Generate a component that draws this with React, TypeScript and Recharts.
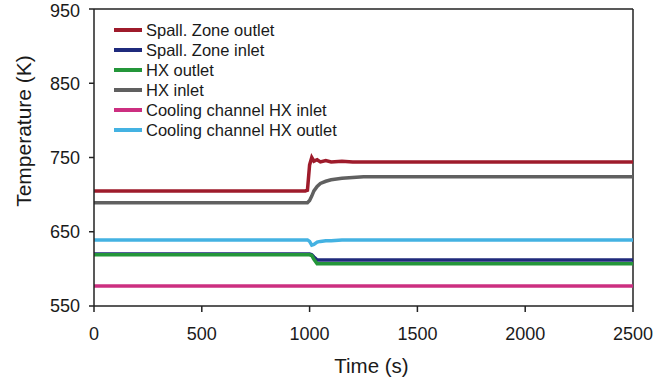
import React from 'react';
import {
  LineChart,
  Line,
  XAxis,
  YAxis,
  ReferenceLine,
  Label
} from 'recharts';

const FONT = '"Liberation Sans", Arial, sans-serif';

// time axis (s)
const times = [0, 980, 990, 1000, 1010, 1020, 1035, 1050, 1075, 1100, 1150, 1200, 1250, 1300, 2500];

// temperatures (K)
const spallOutlet = [705, 705, 706, 740, 750, 745, 747, 744, 746, 744, 745, 744, 744, 744, 744];
const spallInlet = [620, 620, 620, 620, 619, 616, 612, 612, 612, 612, 612, 612, 612, 612, 612];
const hxOutlet = [619, 619, 619, 619, 618, 613, 607, 607, 607, 607, 607, 607, 607, 607, 607];
const hxInlet = [689, 689, 689, 692, 698, 705, 711, 715, 718, 720, 722, 723, 724, 724, 724];
const coolInlet = [577, 577, 577, 577, 577, 577, 577, 577, 577, 577, 577, 577, 577, 577, 577];
const coolOutlet = [639, 639, 639, 637, 632, 633, 636, 637, 638, 638, 639, 639, 639, 639, 639];

const xTicks = [0, 500, 1000, 1500, 2000, 2500];
const yTicks = [550, 650, 750, 850, 950];

const series = [
  { key: 'spallOutlet', name: 'Spall. Zone outlet', color: '#9e1b2b', values: spallOutlet },
  { key: 'spallInlet', name: 'Spall. Zone inlet', color: '#1f2a7c', values: spallInlet },
  { key: 'hxOutlet', name: 'HX outlet', color: '#24963a', values: hxOutlet },
  { key: 'hxInlet', name: 'HX inlet', color: '#606060', values: hxInlet },
  { key: 'coolInlet', name: 'Cooling channel HX inlet', color: '#cc2f80', values: coolInlet },
  { key: 'coolOutlet', name: 'Cooling channel HX outlet', color: '#44b2e2', values: coolOutlet }
];

const data = times.map((t, i) => {
  const row: Record<string, number> = { time: t };
  series.forEach((s) => {
    row[s.key] = s.values[i];
  });
  return row;
});

const LegendBox = () => (
  <div
    style={{
      position: 'absolute',
      top: 20,
      left: 114,
      fontFamily: FONT,
      fontSize: 16.5,
      color: '#1a1a1a',
      lineHeight: '20px'
    }}
  >
    {series.map((s) => (
      <div key={s.key} style={{ display: 'flex', alignItems: 'center', height: 20 }}>
        <span style={{ display: 'inline-block', width: 28, height: 4, background: s.color, marginRight: 4 }} />
        <span>{s.name}</span>
      </div>
    ))}
  </div>
);

export default function App() {
  return (
    <div style={{ position: 'absolute', left: 0, top: 0, width: 663, height: 382, background: '#fff' }}>
      <LineChart width={663} height={382} data={data} margin={{ top: 9, right: 30, bottom: 0, left: 0 }}>
        <XAxis
          dataKey="time"
          type="number"
          domain={[0, 2500]}
          ticks={xTicks}
          height={76}
          stroke="#222"
          strokeWidth={1.5}
          tickSize={6}
          tickMargin={15}
          tick={{ fill: '#1a1a1a', fontSize: 18, fontFamily: FONT }}
        >
          <Label
            value="Time (s)"
            position="insideBottom"
            offset={9}
            dx={8}
            style={{ fill: '#1a1a1a', fontSize: 20.5, fontFamily: FONT }}
          />
        </XAxis>
        <YAxis
          type="number"
          domain={[550, 950]}
          ticks={yTicks}
          width={94}
          stroke="#222"
          strokeWidth={1.5}
          tickSize={5}
          tickMargin={9}
          tick={{ fill: '#1a1a1a', fontSize: 18, fontFamily: FONT }}
        >
          <Label
            content={() => (
              <text
                x={23}
                y={131}
                transform="rotate(-90 23 131)"
                textAnchor="middle"
                dominantBaseline="central"
                style={{ fill: '#1a1a1a', fontSize: 21, fontFamily: FONT }}
              >
                Temperature (K)
              </text>
            )}
          />
        </YAxis>
        <ReferenceLine y={950} stroke="#222" strokeWidth={1.5} />
        <ReferenceLine x={2500} stroke="#222" strokeWidth={1.5} />
        {series.map((s) => (
          <Line
            key={s.key}
            dataKey={s.key}
            name={s.name}
            type="linear"
            stroke={s.color}
            strokeWidth={3.5}
            dot={false}
            activeDot={false}
            isAnimationActive={false}
          />
        ))}
      </LineChart>
      <LegendBox />
    </div>
  );
}
